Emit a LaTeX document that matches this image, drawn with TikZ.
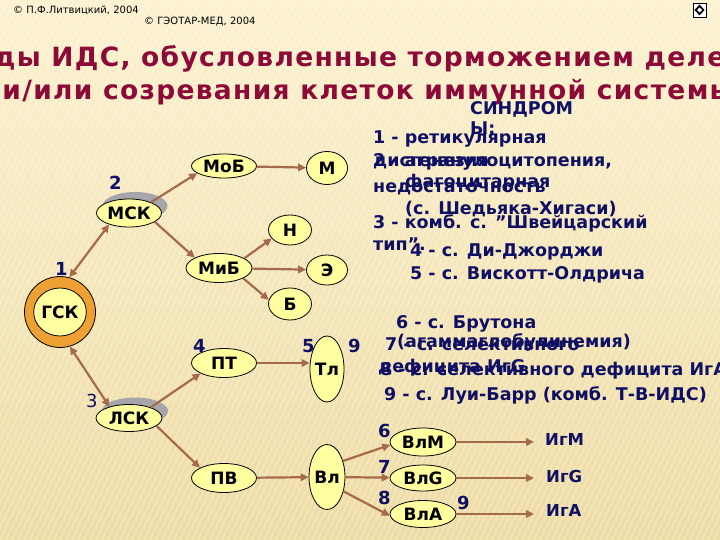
\documentclass[tikz,border=0pt]{standalone}
\usepackage{fontspec}
\setmainfont{DejaVu Sans}
\newfontfamily\titlefont{DejaVu Sans}[LetterSpace=5]
\usetikzlibrary{shapes.geometric,arrows.meta}
\definecolor{bgtop}{RGB}{252,242,208}
\definecolor{bgbot}{RGB}{238,220,165}
\definecolor{titlecol}{RGB}{140,10,55}
\definecolor{navy}{RGB}{15,15,100}
\definecolor{cellfill}{RGB}{255,255,160}
\definecolor{ringcol}{RGB}{238,160,50}
\definecolor{arrowcol}{RGB}{165,105,75}
\definecolor{shadowgrey}{RGB}{165,165,170}
\begin{document}
\begin{tikzpicture}[x=1bp,y=-1bp,
 cell/.style={ellipse,draw=black,line width=0.8bp,fill=cellfill,inner sep=0pt,font=\fontsize{17bp}{19bp}\selectfont\bfseries},
 shadowcell/.style={ellipse,fill=shadowgrey,inner sep=0pt},
 arr/.style={draw=arrowcol,line width=2.2bp,-{Triangle[length=8bp,width=7.5bp]}},
 darr/.style={draw=arrowcol,line width=2.2bp,{Triangle[length=8bp,width=7.5bp]}-{Triangle[length=8bp,width=7.5bp]}},
 num/.style={text=navy,font=\fontsize{18bp}{20bp}\selectfont\bfseries,anchor=base west,inner sep=0pt},
 info/.style={text=navy,font=\fontsize{17.5bp}{19bp}\selectfont\bfseries,anchor=base west,inner sep=0pt},
 outtext/.style={text=navy,font=\fontsize{16.5bp}{18bp}\selectfont\bfseries,anchor=base west,inner sep=0pt},
 titlestyle/.style={text=titlecol,font=\fontsize{26.5bp}{30bp}\titlefont\bfseries,anchor=base,inner sep=0pt},
 copy/.style={text=black,font=\fontsize{10bp}{12bp}\selectfont,anchor=base west,inner sep=0pt},
]
\useasboundingbox (0,0) rectangle (720,540);
\clip (0,0) rectangle (720,540);
% background
\shade[top color=bgtop,bottom color=bgbot] (0,0) rectangle (720,540);
\foreach \k in {0,...,170}{
  \draw[white,opacity=0.25,line width=1.6bp] ({\k*6-300},540) -- ++(260,-540);
}
% copyright and icon
\node[copy] (c1) at (13,14) {© П.Ф.Литвицкий, 2004};
\node[copy] (c2) at (144,25) {© ГЭОТАР-МЕД, 2004};
\draw[fill=white,line width=0.4bp] (693,3) rectangle (706,17);
\fill[black] (699.5,4.5) -- (704.5,10) -- (699.5,15.5) -- (694.5,10) -- cycle;
\fill[white] (699.5,7.5) -- (702,10) -- (699.5,12.5) -- (697,10) -- cycle;
% title
\node[titlestyle] (t1) at (368,67) {Виды ИДС, обусловленные торможением деления};
\node[titlestyle] (t2) at (368,100) {и/или созревания клеток иммунной системы};
% cells
\node[circle,draw=black,line width=0.8bp,fill=ringcol,minimum size=71bp,inner sep=0pt] (gskring) at (60,312) {};
\node[cell,minimum width=48bp,minimum height=48bp] (gsk) at (60,312) {ГСК};
\node[shadowcell,minimum width=65bp,minimum height=28bp] (mskshadow) at (135,206) {};
\node[cell,minimum width=65bp,minimum height=28bp] (msk) at (129,213) {МСК};
\node[cell,minimum width=65bp,minimum height=24bp] (mob) at (224,166) {МоБ};
\node[cell,minimum width=41bp,minimum height=33bp] (m) at (327,168) {М};
\node[cell,minimum width=43bp,minimum height=30bp] (n) at (290,230) {Н};
\node[cell,minimum width=66bp,minimum height=29bp] (mib) at (219,268) {МиБ};
\node[cell,minimum width=41bp,minimum height=30bp] (e) at (327,270) {Э};
\node[cell,minimum width=43bp,minimum height=32bp] (b) at (290,304) {Б};
\node[shadowcell,minimum width=66bp,minimum height=27bp] (lskshadow) at (135,411) {};
\node[cell,minimum width=66bp,minimum height=27bp] (lsk) at (129,418) {ЛСК};
\node[cell,minimum width=65bp,minimum height=29bp] (pt) at (224,363) {ПТ};
\node[cell,minimum width=30bp,minimum height=66bp] (tl) at (327,369) {Тл};
\node[cell,minimum width=65bp,minimum height=29bp] (pv) at (224,478) {ПВ};
\node[cell,minimum width=30bp,minimum height=65bp] (vl) at (327,477) {Вл};
\node[cell,minimum width=66bp,minimum height=28bp] (vlm) at (423,442) {ВлМ};
\node[cell,minimum width=66bp,minimum height=26bp] (vlg) at (423,478) {ВлG};
\node[cell,minimum width=66bp,minimum height=27bp] (vla) at (423,514) {ВлА};
% outputs
\node[outtext] (igm) at (545,445) {ИгМ};
\node[outtext] (igg) at (546,482) {ИгG};
\node[outtext] (iga) at (546,516) {ИгА};
\coordinate (igmend) at (534,442);
\coordinate (iggend) at (534,478);
\coordinate (igaend) at (534,514);
% connectors
\draw[darr] (gskring.75) -- (msk.210);
\draw[darr] (gskring.286) -- (lsk.150);
\draw[arr] (msk.26) -- (mob.195);
\draw[arr] (msk.341) -- (mib.157);
\draw[arr] (mob) -- (m);
\draw[arr] (mib.21) -- (n.205);
\draw[arr] (mib) -- (e);
\draw[arr] (mib.337) -- (b.169);
\draw[arr] (lsk.26) -- (pt.204);
\draw[arr] (lsk.344) -- (pv.157);
\draw[arr] (pt.east) -- (pt.east -| tl.west);
\draw[arr] (pv) -- (vl);
\draw[arr] (vl.45) -- (vlm.185);
\draw[arr] (vl) -- (vlg);
\draw[arr] (vl.319) -- (vla.183);
\draw[arr] (vlm) -- (igmend);
\draw[arr] (vlg) -- (iggend);
\draw[arr] (vla) -- (igaend);
% numbers
\node[num] (n1) at (55,276) {1};
\node[num] (n2) at (109,190) {2};
\node[num,font=\fontsize{18bp}{20bp}\selectfont] (n3) at (86,407) {3};
\node[num] (n4) at (193,352) {4};
\node[num] (n5) at (302,352) {5};
\node[num] (n9a) at (348,352) {9};
\node[num] (n6) at (378,437) {6};
\node[num] (n7) at (378,473) {7};
\node[num] (n8) at (378,504) {8};
\node[num] (n9b) at (457,509) {9};
% syndromes text
\node[info] (s0) at (470,115) {СИНДРОМ};
\node[info] (s0b) at (470,135) {Ы:};
\node[info] (s1) at (373,144) {1 - ретикулярная};
\node[info] (s1b) at (373,167) {дисгенезия};
\node[info] (s2) at (373,167) {2 - агранулоцитопения,};
\node[info] (s2b) at (405,188) {фагоцитарная};
\node[info] (s2c) at (373,193) {недостаточность};
\node[info] (s2d) at (405,215) {(с. Шедьяка-Хигаси)};
\node[info] (s3) at (373,229) {3 - комб. с. ”Швейцарский};
\node[info] (s3b) at (373,251) {тип”.};
\node[info] (s4) at (410,257) {4 - с. Ди-Джорджи};
\node[info] (s5) at (410,280) {5 - с. Вискотт-Олдрича};
\node[info] (s6) at (396,328) {6 - с. Брутона};
\node[info] (s6b) at (397,347) {(агаммаглобулинемия)};
\node[info] (s7) at (385,350) {7 - с. селективного};
\node[info] (s7b) at (378,372) {дефицита ИгG};
\node[info] (s8) at (380,375) {8 - с. селективного дефицита ИгА};
\node[info] (s9) at (384,400) {9 - с. Луи-Барр (комб. Т-В-ИДС)};
\end{tikzpicture}
\end{document}
